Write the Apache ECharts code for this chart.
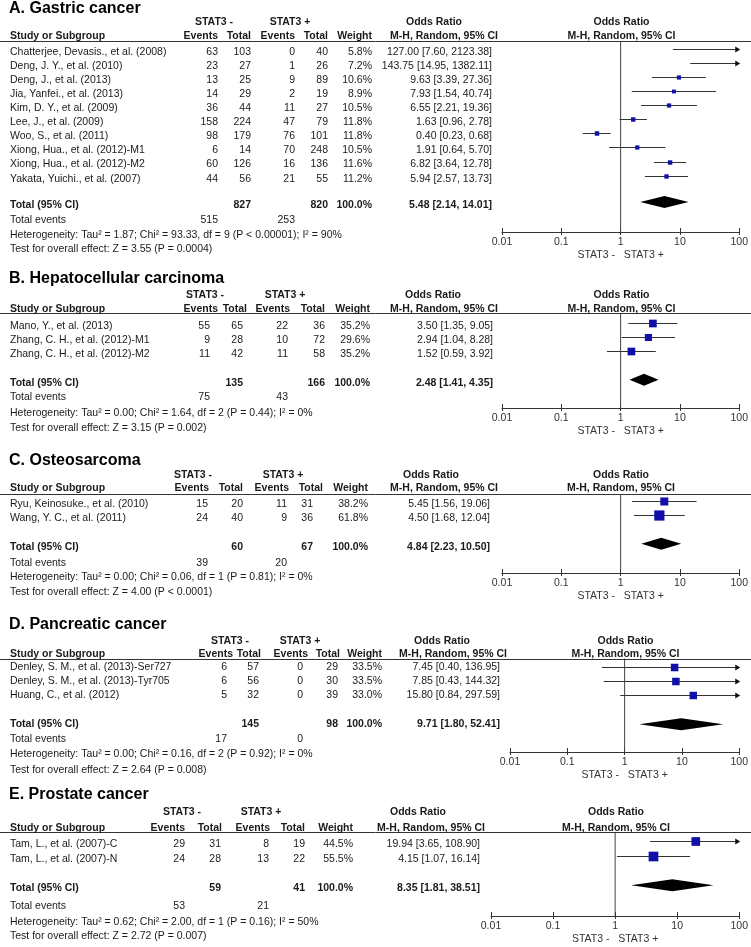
<!DOCTYPE html>
<html><head><meta charset="utf-8">
<script src="https://cdn.jsdelivr.net/npm/echarts@6/dist/echarts.min.js"></script>
<style>html,body{margin:0;padding:0;background:#fff}#c{width:751px;height:947px}</style>
</head><body><div id="c"></div>
<script>
// ---------------- DATA ----------------
const panelTitles = ["A. Gastric cancer", "B. Hepatocellular carcinoma", "C. Osteosarcoma", "D. Pancreatic cancer", "E. Prostate cancer"];
const tickLabels = [0.01, 0.1, 1, 10, 100];
const axisTitle = "STAT3 -   STAT3 +";

// A. Gastric cancer
const studiesA = ["Chatterjee, Devasis., et al. (2008)", "Deng, J. Y., et al. (2010)", "Deng, J., et al. (2013)", "Jia, Yanfei., et al. (2013)", "Kim, D. Y., et al. (2009)", "Lee, J., et al. (2009)", "Woo, S., et al. (2011)", "Xiong, Hua., et al. (2012)-M1", "Xiong, Hua., et al. (2012)-M2", "Yakata, Yuichi., et al. (2007)"];
const evNegA = [63, 23, 13, 14, 36, 158, 98, 6, 60, 44];
const totNegA = [103, 27, 25, 29, 44, 224, 179, 14, 126, 56];
const evPosA = [0, 1, 9, 2, 11, 47, 76, 70, 16, 21];
const totPosA = [40, 26, 89, 19, 27, 79, 101, 248, 136, 55];
const weightA = [5.8, 7.2, 10.6, 8.9, 10.5, 11.8, 11.8, 10.5, 11.6, 11.2];
const orA = [127.00, 143.75, 9.63, 7.93, 6.55, 1.63, 0.40, 1.91, 6.82, 5.94];
const loA = [7.60, 14.95, 3.39, 1.54, 2.21, 0.96, 0.23, 0.64, 3.64, 2.57];
const hiA = [2123.38, 1382.11, 27.36, 40.74, 19.36, 2.78, 0.68, 5.70, 12.78, 13.73];
const totalA = {neg: 827, pos: 820, evNeg: 515, evPos: 253, or: 5.48, lo: 2.14, hi: 14.01};
const hetA = "Heterogeneity: Tau² = 1.87; Chi² = 93.33, df = 9 (P < 0.00001); I² = 90%";
const testA = "Test for overall effect: Z = 3.55 (P = 0.0004)";

// B. Hepatocellular carcinoma
const studiesB = ["Mano, Y., et al. (2013)", "Zhang, C. H., et al. (2012)-M1", "Zhang, C. H., et al. (2012)-M2"];
const evNegB = [55, 9, 11];
const totNegB = [65, 28, 42];
const evPosB = [22, 10, 11];
const totPosB = [36, 72, 58];
const weightB = [35.2, 29.6, 35.2];
const orB = [3.50, 2.94, 1.52];
const loB = [1.35, 1.04, 0.59];
const hiB = [9.05, 8.28, 3.92];
const totalB = {neg: 135, pos: 166, evNeg: 75, evPos: 43, or: 2.48, lo: 1.41, hi: 4.35};
const hetB = "Heterogeneity: Tau² = 0.00; Chi² = 1.64, df = 2 (P = 0.44); I² = 0%";
const testB = "Test for overall effect: Z = 3.15 (P = 0.002)";

// C. Osteosarcoma
const studiesC = ["Ryu, Keinosuke., et al. (2010)", "Wang, Y. C., et al. (2011)"];
const evNegC = [15, 24];
const totNegC = [20, 40];
const evPosC = [11, 9];
const totPosC = [31, 36];
const weightC = [38.2, 61.8];
const orC = [5.45, 4.50];
const loC = [1.56, 1.68];
const hiC = [19.06, 12.04];
const totalC = {neg: 60, pos: 67, evNeg: 39, evPos: 20, or: 4.84, lo: 2.23, hi: 10.50};
const hetC = "Heterogeneity: Tau² = 0.00; Chi² = 0.06, df = 1 (P = 0.81); I² = 0%";
const testC = "Test for overall effect: Z = 4.00 (P < 0.0001)";

// D. Pancreatic cancer
const studiesD = ["Denley, S. M., et al. (2013)-Ser727", "Denley, S. M., et al. (2013)-Tyr705", "Huang, C., et al. (2012)"];
const evNegD = [6, 6, 5];
const totNegD = [57, 56, 32];
const evPosD = [0, 0, 0];
const totPosD = [29, 30, 39];
const weightD = [33.5, 33.5, 33.0];
const orD = [7.45, 7.85, 15.80];
const loD = [0.40, 0.43, 0.84];
const hiD = [136.95, 144.32, 297.59];
const totalD = {neg: 145, pos: 98, evNeg: 17, evPos: 0, or: 9.71, lo: 1.80, hi: 52.41};
const hetD = "Heterogeneity: Tau² = 0.00; Chi² = 0.16, df = 2 (P = 0.92); I² = 0%";
const testD = "Test for overall effect: Z = 2.64 (P = 0.008)";

// E. Prostate cancer
const studiesE = ["Tam, L., et al. (2007)-C", "Tam, L., et al. (2007)-N"];
const evNegE = [29, 24];
const totNegE = [31, 28];
const evPosE = [8, 13];
const totPosE = [19, 22];
const weightE = [44.5, 55.5];
const orE = [19.94, 4.15];
const loE = [3.65, 1.07];
const hiE = [108.90, 16.14];
const totalE = {neg: 59, pos: 41, evNeg: 53, evPos: 21, or: 8.35, lo: 1.81, hi: 38.51};
const hetE = "Heterogeneity: Tau² = 0.62; Chi² = 2.00, df = 1 (P = 0.16); I² = 50%";
const testE = "Test for overall effect: Z = 2.72 (P = 0.007)";

// ---------------- LAYOUT (pixel positions only) ----------------
const layouts = [
  {title: 9, stat: 22, head: 36, rule: 41, row0: 52, pitch: 14.07, total: 205, foot: [220, 235, 249.5], statX: [214, 290],
   headR: [218, 251, 295, 328, 372], valR: [218, 251, 295, 328, 372], orR: 492, orHeadC: 434, mhR: 498, x0: 502, x1: 741, axisY: 232, fOff: -3},
  {title: 279, stat: 295, head: 309.5, rule: 313, row0: 326, pitch: 13.9, total: 383, foot: [397, 413, 428], statX: [205, 285],
   headR: [218, 247, 290, 325, 370], valR: [210, 243, 288, 325, 370], orR: 493, orHeadC: 433, mhR: 498, x0: 502, x1: 741, axisY: 408, fOff: -3.3},
  {title: 461, stat: 475, head: 488.5, rule: 494, row0: 504, pitch: 14.3, total: 547, foot: [563, 577, 592], statX: [193, 283],
   headR: [209, 243, 289, 323, 368], valR: [208, 243, 287, 313, 368], orR: 490, orHeadC: 431, mhR: 498, x0: 502, x1: 740, axisY: 573, fOff: -3.3},
  {title: 624.5, stat: 641, head: 654.5, rule: 658.5, row0: 667, pitch: 14.2, total: 724.3, foot: [739.3, 754, 770], statX: [230, 300],
   headR: [233, 261, 308, 340, 382], valR: [227, 259, 303, 338, 382], orR: 500, orHeadC: 442, mhR: 507, x0: 510, x1: 741, axisY: 752, fOff: 0},
  {title: 795, stat: 812, head: 828, rule: 832, row0: 844.3, pitch: 15, total: 888.3, foot: [905.7, 921.7, 936], statX: [182, 261],
   headR: [185, 222, 270, 305, 353], valR: [185, 221, 269, 305, 353], orR: 480, orHeadC: 418, mhR: 485, x0: 491, x1: 741, axisY: 916, fOff: -3}
];

const panels = [
  {studies: studiesA, evNeg: evNegA, totNeg: totNegA, evPos: evPosA, totPos: totPosA, weight: weightA, or: orA, lo: loA, hi: hiA, total: totalA, het: hetA, test: testA},
  {studies: studiesB, evNeg: evNegB, totNeg: totNegB, evPos: evPosB, totPos: totPosB, weight: weightB, or: orB, lo: loB, hi: hiB, total: totalB, het: hetB, test: testB},
  {studies: studiesC, evNeg: evNegC, totNeg: totNegC, evPos: evPosC, totPos: totPosC, weight: weightC, or: orC, lo: loC, hi: hiC, total: totalC, het: hetC, test: testC},
  {studies: studiesD, evNeg: evNegD, totNeg: totNegD, evPos: evPosD, totPos: totPosD, weight: weightD, or: orD, lo: loD, hi: hiD, total: totalD, het: hetD, test: testD},
  {studies: studiesE, evNeg: evNegE, totNeg: totNegE, evPos: evPosE, totPos: totPosE, weight: weightE, or: orE, lo: loE, hi: hiE, total: totalE, het: hetE, test: testE}
];

// ---------------- RENDER ----------------
const FONT = '"Liberation Sans", Arial, Helvetica, sans-serif';
const TXT = '#1a1a1a';
const LINE = '#333';
const SQ = '#1010a8';
const FS = 10.5;

function txt(x, y, s, o) {
  o = o || {};
  const align = o.align || 'left';
  return {type: 'text', x: x, y: y, silent: true, z: 10,
    style: {text: String(s), fill: o.color || TXT,
      font: (o.bold ? 'bold ' : '') + (o.size || FS) + 'px ' + FONT,
      textAlign: align, textVerticalAlign: 'middle', align: align, verticalAlign: 'middle'}};
}
function fmt2(v) { return v.toFixed(2); }
function orText(o, l, h) { return fmt2(o) + ' [' + fmt2(l) + ', ' + fmt2(h) + ']'; }

const graphic = [];
const grids = [], xAxes = [], yAxes = [], series = [];

panels.forEach(function (P, p) {
  const L = layouts[p];
  const nullX = (L.x0 + L.x1) / 2;
  graphic.push(txt(9, L.title, panelTitles[p], {bold: true, size: 16, color: '#000'}));
  graphic.push(txt(L.statX[0], L.stat, 'STAT3 -', {bold: true, align: 'center'}));
  graphic.push(txt(L.statX[1], L.stat, 'STAT3 +', {bold: true, align: 'center'}));
  graphic.push(txt(10, L.head, 'Study or Subgroup', {bold: true}));
  ['Events', 'Total', 'Events', 'Total', 'Weight'].forEach(function (h, i) {
    graphic.push(txt(L.headR[i], L.head, h, {bold: true, align: 'right'}));
  });
  graphic.push(txt(L.orHeadC, L.stat, 'Odds Ratio', {bold: true, align: 'center'}));
  graphic.push(txt(L.mhR, L.head, 'M-H, Random, 95% CI', {bold: true, align: 'right'}));
  graphic.push(txt(nullX, L.stat, 'Odds Ratio', {bold: true, align: 'center'}));
  graphic.push(txt(nullX, L.head, 'M-H, Random, 95% CI', {bold: true, align: 'center'}));
  graphic.push({type: 'line', silent: true, z: 5, shape: {x1: 0, y1: Math.round(L.rule) + 0.5, x2: 751, y2: Math.round(L.rule) + 0.5}, style: {stroke: LINE, lineWidth: 1}});

  P.studies.forEach(function (s, i) {
    const y = L.row0 + i * L.pitch;
    graphic.push(txt(10, y, s));
    graphic.push(txt(L.valR[0], y, P.evNeg[i], {align: 'right'}));
    graphic.push(txt(L.valR[1], y, P.totNeg[i], {align: 'right'}));
    graphic.push(txt(L.valR[2], y, P.evPos[i], {align: 'right'}));
    graphic.push(txt(L.valR[3], y, P.totPos[i], {align: 'right'}));
    graphic.push(txt(L.valR[4], y, P.weight[i].toFixed(1) + '%', {align: 'right'}));
    graphic.push(txt(L.orR, y, orText(P.or[i], P.lo[i], P.hi[i]), {align: 'right'}));
  });
  const T = P.total;
  graphic.push(txt(10, L.total, 'Total (95% CI)', {bold: true}));
  graphic.push(txt(L.valR[1], L.total, T.neg, {bold: true, align: 'right'}));
  graphic.push(txt(L.valR[3], L.total, T.pos, {bold: true, align: 'right'}));
  graphic.push(txt(L.valR[4], L.total, '100.0%', {bold: true, align: 'right'}));
  graphic.push(txt(L.orR, L.total, orText(T.or, T.lo, T.hi), {bold: true, align: 'right'}));
  graphic.push(txt(10, L.foot[0], 'Total events'));
  graphic.push(txt(L.valR[0], L.foot[0], T.evNeg, {align: 'right'}));
  graphic.push(txt(L.valR[2], L.foot[0], T.evPos, {align: 'right'}));
  graphic.push(txt(10, L.foot[1], P.het));
  graphic.push(txt(10, L.foot[2], P.test));

  const base = L.row0 + L.fOff;
  const yMin = (L.rule - base) / L.pitch;
  const yMax = (L.axisY - base) / L.pitch;
  grids.push({left: L.x0, width: L.x1 - L.x0, top: L.rule, height: L.axisY - L.rule, containLabel: false});
  xAxes.push({type: 'log', logBase: 10, min: tickLabels[0], max: tickLabels[tickLabels.length - 1], gridIndex: p, position: 'bottom',
    axisLine: {show: true, onZero: false, lineStyle: {color: LINE, width: 1}},
    axisTick: {show: true, inside: true, length: 4, lineStyle: {color: LINE, width: 1}},
    axisLabel: {show: true, margin: 5, fontSize: FS, color: '#333', fontFamily: FONT,
      formatter: function (v) { return String(+Number(v).toPrecision(2)); }},
    splitLine: {show: false},
    name: axisTitle, nameLocation: 'middle', nameGap: 18,
    nameTextStyle: {fontSize: FS, color: '#333', fontFamily: FONT}});
  xAxes.push({type: 'log', logBase: 10, min: tickLabels[0], max: tickLabels[tickLabels.length - 1], gridIndex: p, position: 'bottom', offset: 0,
    axisLine: {show: false, onZero: false}, axisTick: {show: true, inside: false, length: 3, lineStyle: {color: LINE, width: 1}},
    axisLabel: {show: false}, splitLine: {show: false}});
  yAxes.push({type: 'value', gridIndex: p, min: yMin, max: yMax, inverse: true, show: false});

  series.push({type: 'line', xAxisIndex: 2 * p, yAxisIndex: p, data: [[1, yMin], [1, yMax]], symbol: 'none', silent: true,
    lineStyle: {color: '#444', width: 1}, z: 1, animation: false});

  const sData = P.studies.map(function (s, i) { return [P.or[i], P.lo[i], P.hi[i], P.weight[i], i]; });
  series.push({type: 'custom', xAxisIndex: 2 * p, yAxisIndex: p, data: sData, clip: false, silent: true, animation: false, z: 3,
    encode: {x: 0, y: 4},
    renderItem: function (params, api) {
      const o = api.value(0), lo = api.value(1), hi = api.value(2), w = api.value(3), yi = api.value(4);
      const cl = function (v) { return Math.min(100, Math.max(0.01, v)); };
      const pL = api.coord([cl(lo), yi]), pH = api.coord([cl(hi), yi]);
      const yy = Math.round(pL[1]) + 0.5;
      const ch = [{type: 'line', shape: {x1: pL[0], y1: yy, x2: pH[0], y2: yy}, style: {stroke: LINE, lineWidth: 1}}];
      if (hi > 100) ch.push({type: 'polygon', shape: {points: [[pH[0] + 1, yy], [pH[0] - 4, yy - 3], [pH[0] - 4, yy + 3]]}, style: {fill: '#111'}});
      if (lo < 0.01) ch.push({type: 'polygon', shape: {points: [[pL[0] - 1, yy], [pL[0] + 4, yy - 3], [pL[0] + 4, yy + 3]]}, style: {fill: '#111'}});
      if (o >= 0.01 && o <= 100) {
        const c = api.coord([o, yi]);
        const sz = Math.max(3, 1.3 * Math.sqrt(w));
        ch.push({type: 'rect', shape: {x: c[0] - sz / 2, y: yy - sz / 2, width: sz, height: sz}, style: {fill: SQ}});
      }
      return {type: 'group', children: ch};
    }});

  const dY = (L.total - L.row0) / L.pitch;
  series.push({type: 'custom', xAxisIndex: 2 * p, yAxisIndex: p, data: [[T.or, T.lo, T.hi, dY]], clip: false, silent: true, animation: false, z: 3,
    encode: {x: 0, y: 3},
    renderItem: function (params, api) {
      const o = api.value(0), lo = api.value(1), hi = api.value(2), yi = api.value(3);
      const c = api.coord([o, yi]), a = api.coord([lo, yi]), b = api.coord([hi, yi]);
      const h = 6;
      return {type: 'polygon', shape: {points: [[a[0], c[1]], [c[0], c[1] - h], [b[0], c[1]], [c[0], c[1] + h]]}, style: {fill: '#000'}};
    }});
});

const chart = echarts.init(document.getElementById('c'), null, {renderer: 'canvas'});
chart.setOption({
  backgroundColor: '#fff',
  animation: false,
  grid: grids, xAxis: xAxes, yAxis: yAxes, series: series,
  graphic: {elements: graphic}
});
</script></body></html>
